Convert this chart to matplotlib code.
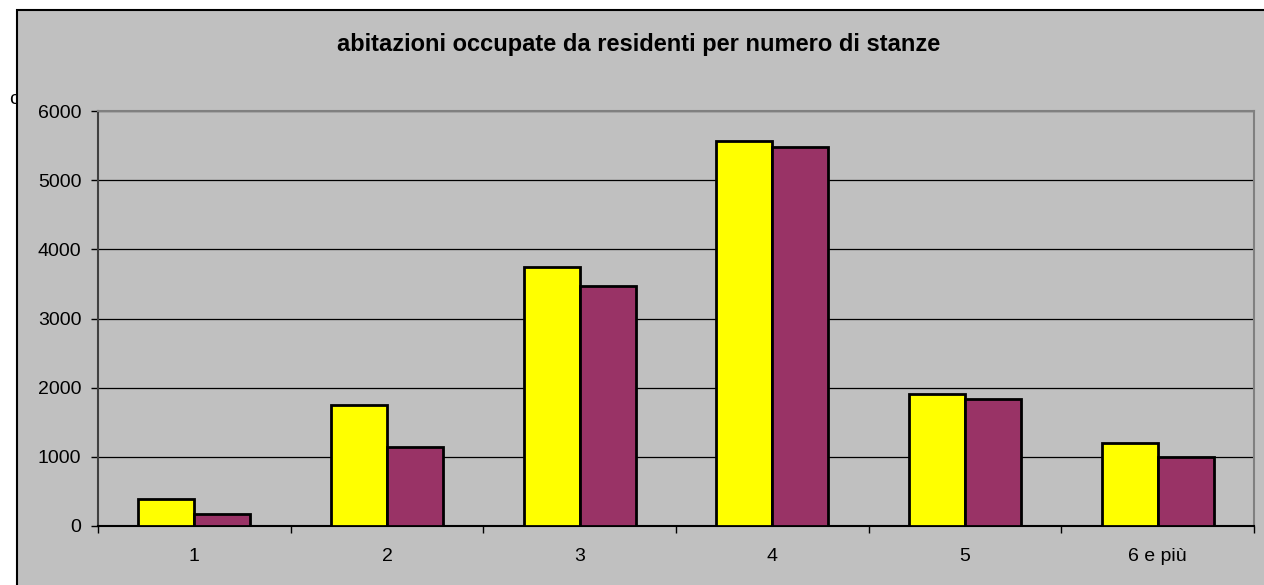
import numpy as np
import matplotlib
matplotlib.use("Agg")
import matplotlib.pyplot as plt
from matplotlib.patches import Rectangle

# data
categories = ["1", "2", "3", "4", "5", "6 e più"]
serie_a = [390, 1750, 3745, 5567, 1909, 1200]   # yellow
serie_b = [174, 1142, 3470, 5480, 1836, 998]    # purple
y_ticks = [0, 1000, 2000, 3000, 4000, 5000, 6000]

plt.rcParams['font.family'] = ['Liberation Sans', 'DejaVu Sans']

W, H = 1264, 585
fig = plt.figure(figsize=(W / 100, H / 100), dpi=100)
fig.patch.set_facecolor("white")

# stray text partly hidden by the chart frame
fig.text(9 / W, 1 - 99 / H, "c", fontsize=14, va="center", ha="left", zorder=-3)

# chart area frame (grey, runs off the right/bottom edge)
frame = Rectangle((17 / W, -0.1), 1.2, 1 - 10 / H + 0.1, transform=fig.transFigure,
                  facecolor="#C0C0C0", edgecolor="black", linewidth=1.5, zorder=-2)
fig.patches.append(frame)

ax = fig.add_axes([98 / W, 1 - 526 / H, (1254 - 98) / W, (526 - 111) / H])
ax.set_facecolor("#C0C0C0")

x = np.arange(len(categories))
w = 0.29
ax.bar(x - w / 2, serie_a, w, color="#FFFF00", edgecolor="black", linewidth=2.0, zorder=3)
ax.bar(x + w / 2, serie_b, w, color="#993366", edgecolor="black", linewidth=2.0, zorder=3)

ax.set_xlim(-0.5, len(categories) - 0.5)
ax.set_ylim(0, 6000)
ax.set_yticks(y_ticks)
ax.yaxis.grid(True, color="black", linewidth=0.9, zorder=1)
ax.set_axisbelow(True)

ax.set_xticks(x)
ax.set_xticklabels(categories)
ax.set_xticks(np.arange(len(categories) + 1) - 0.5, minor=True)
ax.tick_params(axis="x", which="major", length=0, pad=16, labelsize=14)
ax.tick_params(axis="x", which="minor", length=5, width=1, direction="out")
ax.tick_params(axis="y", length=5, width=1, direction="out", pad=7, labelsize=14)

ax.spines["left"].set_color("#404040")
ax.spines["bottom"].set_color("black")
ax.spines["top"].set_color("#808080")
ax.spines["right"].set_color("#808080")
for s in ax.spines.values():
    s.set_linewidth(1.5)

fig.text(0.5 * (336 + 942) / W, 1 - 44 / H,
         "abitazioni occupate da residenti per numero di stanze",
         fontsize=17, fontweight="bold", ha="center", va="center")

fig.savefig("out.png", dpi=100)
